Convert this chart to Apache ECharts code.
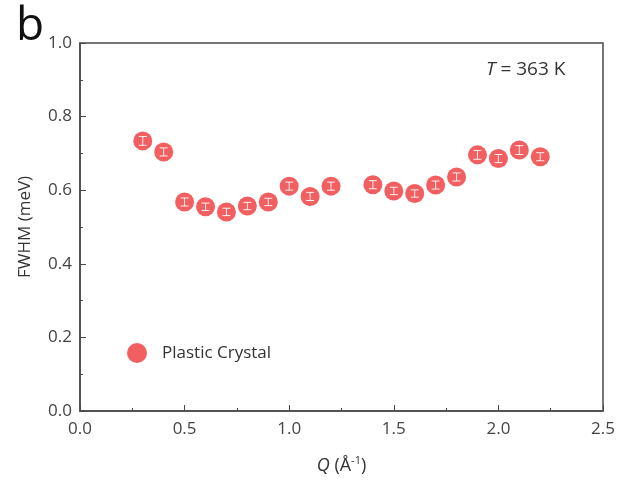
<!DOCTYPE html>
<html>
<head>
<meta charset="utf-8">
<script src="https://cdn.jsdelivr.net/npm/echarts@6/dist/echarts.min.js"></script>
<style>
  html, body { margin: 0; padding: 0; background: #fff; }
  #main { width: 630px; height: 486px; }
</style>
</head>
<body>
<div id="main"></div>
<script>
// data
const qValues = [0.3, 0.4, 0.5, 0.6, 0.7, 0.8, 0.9, 1.0, 1.1, 1.2, 1.4, 1.5, 1.6, 1.7, 1.8, 1.9, 2.0, 2.1, 2.2]
const fwhm = [0.734, 0.704, 0.568, 0.555, 0.541, 0.557, 0.568, 0.611, 0.583, 0.611, 0.615, 0.598, 0.591, 0.614, 0.636, 0.696, 0.686, 0.709, 0.691]
const fwhmErr = [0.012, 0.011, 0.011, 0.010, 0.010, 0.010, 0.010, 0.011, 0.011, 0.011, 0.011, 0.010, 0.010, 0.011, 0.011, 0.012, 0.011, 0.012, 0.011]
const xTicks = [0.0, 0.5, 1.0, 1.5, 2.0, 2.5]
const yTicks = [0.0, 0.2, 0.4, 0.6, 0.8, 1.0]

const RED = '#F25F60'
const AXIS = '#4a4a4a'
const FONT = '"Open Sans", "Noto Sans", sans-serif'

const chart = echarts.init(document.getElementById('main'))

const points = qValues.map((q, i) => [q, fwhm[i]])
const errData = qValues.map((q, i) => [q, fwhm[i] - fwhmErr[i], fwhm[i] + fwhmErr[i]])

const option = {
  animation: false,
  grid: {
    left: 80,
    right: 27,
    top: 43,
    bottom: 75,
    show: true,
    borderColor: AXIS,
    borderWidth: 1.5
  },
  legend: {
    left: 122,
    top: 338,
    itemWidth: 20,
    itemHeight: 20,
    itemStyle: { opacity: 1 },
    textStyle: { fontFamily: FONT, fontSize: 17, color: '#333', padding: [0, 0, 0, 10] },
    data: [{ name: 'Plastic Crystal', icon: 'circle' }]
  },
  xAxis: {
    type: 'value',
    min: 0,
    max: 2.5,
    interval: 0.5,
    name: '{i|Q} {n|(Å}{s|-1}{n|)}',
    nameLocation: 'middle',
    nameGap: 44,
    nameTextStyle: {
      fontFamily: FONT,
      fontSize: 18,
      color: '#333',
      rich: {
        i: { fontFamily: FONT, fontSize: 18, fontStyle: 'italic', color: '#333' },
        n: { fontFamily: FONT, fontSize: 18, color: '#333' },
        s: { fontFamily: FONT, fontSize: 11, color: '#333', verticalAlign: 'top', padding: [0, 0, 10, 0] }
      }
    },
    axisLine: { lineStyle: { color: AXIS, width: 1.5 } },
    axisTick: { inside: true, length: 6, lineStyle: { color: AXIS } },
    minorTick: { show: true, splitNumber: 2, length: 3, lineStyle: { color: AXIS } },
    splitLine: { show: false },
    axisLabel: {
      fontFamily: FONT,
      fontSize: 17,
      color: '#444',
      margin: 10,
      formatter: v => xTicks.includes(v) ? v.toFixed(1) : ''
    }
  },
  yAxis: {
    type: 'value',
    min: 0,
    max: 1.0,
    interval: 0.2,
    name: 'FWHM (meV)',
    nameLocation: 'middle',
    nameGap: 46,
    nameTextStyle: { fontFamily: FONT, fontSize: 17, color: '#333' },
    axisLine: { show: true, lineStyle: { color: AXIS, width: 1.5 } },
    axisTick: { inside: true, length: 6, lineStyle: { color: AXIS } },
    minorTick: { show: true, splitNumber: 2, length: 3, lineStyle: { color: AXIS } },
    splitLine: { show: false },
    axisLabel: {
      fontFamily: FONT,
      fontSize: 17,
      color: '#444',
      margin: 8,
      formatter: v => yTicks.some(t => Math.abs(t - v) < 1e-9) ? v.toFixed(1) : ''
    }
  },
  graphic: [
    {
      type: 'text',
      left: 16,
      top: 4,
      style: { text: 'b', fontFamily: FONT, fontSize: 46, fill: '#111' }
    },
    {
      type: 'text',
      left: 486,
      top: 60,
      style: {
        text: '{i|T} = 363 K',
        rich: {
          i: { fontFamily: FONT, fontSize: 19, fontStyle: 'italic', fill: '#333' }
        },
        fontFamily: FONT,
        fontSize: 19,
        fill: '#333'
      }
    }
  ],
  series: [
    {
      name: 'Plastic Crystal',
      type: 'scatter',
      symbol: 'circle',
      symbolSize: 19,
      itemStyle: { color: RED, opacity: 1 },
      data: points,
      z: 2
    },
    {
      name: 'err',
      type: 'custom',
      z: 3,
      silent: true,
      renderItem: (params, api) => {
        const x = api.value(0)
        const lo = api.coord([x, api.value(1)])
        const hi = api.coord([x, api.value(2)])
        const cap = 4
        const style = { stroke: '#fff', lineWidth: 1, opacity: 0.9 }
        return {
          type: 'group',
          children: [
            { type: 'line', shape: { x1: lo[0], y1: lo[1], x2: hi[0], y2: hi[1] }, style },
            { type: 'line', shape: { x1: lo[0] - cap, y1: lo[1], x2: lo[0] + cap, y2: lo[1] }, style },
            { type: 'line', shape: { x1: hi[0] - cap, y1: hi[1], x2: hi[0] + cap, y2: hi[1] }, style }
          ]
        }
      },
      encode: { x: 0, y: [1, 2] },
      data: errData
    }
  ]
}

chart.setOption(option)
</script>
</body>
</html>
